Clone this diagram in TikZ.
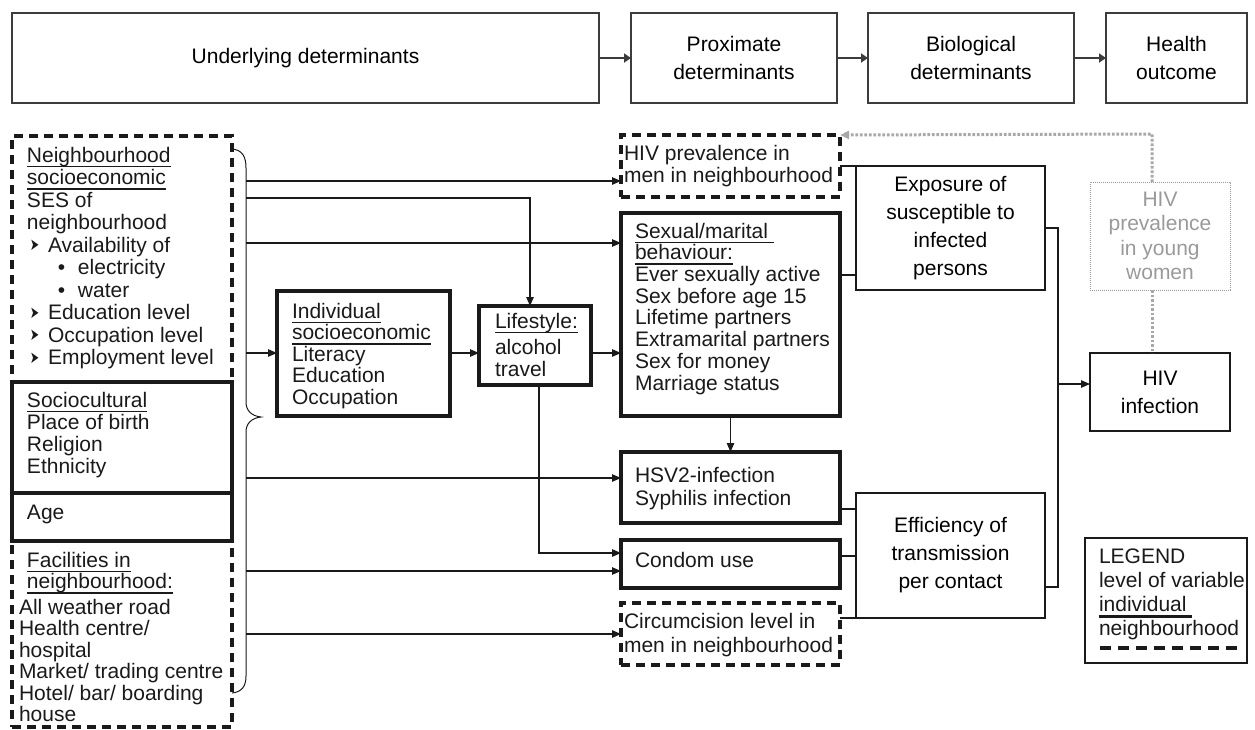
\documentclass[tikz,border=0pt]{standalone}
\usepackage{fontspec}
\usepackage{graphicx}
\setmainfont{Liberation Sans}
\newfontfamily\djv{DejaVu Sans}
\usetikzlibrary{arrows.meta}
\definecolor{ink}{HTML}{1A1A1A}
\definecolor{gry}{HTML}{9A9A9A}
\definecolor{gdl}{HTML}{A8A8A8}
\newcommand\tlft[1]{\begin{tabular}[t]{@{}l@{}}#1\end{tabular}}
\newcommand\uln[1]{\setbox0\hbox{#1}\rlap{\rule[-5pt]{\wd0}{1.3pt}}\box0}
\newcommand\ulnk[1]{\setbox0\hbox{#1}\rlap{\rule[-6pt]{\wd0}{2.6pt}}\box0}
\newcommand\arw{\hspace*{3pt}\makebox[18pt][l]{\raisebox{1.5pt}{\resizebox{9pt}{10.5pt}{\djv ➤}}}}
\newcommand\blt{\hspace*{31pt}\makebox[20pt][l]{\textbullet}}
\newcommand\bx[7]{\node[#2, anchor=north west, minimum width={(#5)-(#3)}, minimum height={(#6)-(#4)}] (#1) at (#3,#4) {#7};}
\begin{document}
\begin{tikzpicture}[x=1pt,y=-1pt,
 every node/.style={inner sep=0pt,outer sep=0pt},
 f21/.style={font=\fontsize{21}{28}\selectfont},
 thinbox/.style={draw=ink,line width=1.2pt,align=center,f21},
 topbox/.style={draw=ink!85,line width=1.6pt,align=center,f21},
 thickbox/.style={draw=ink,line width=3.2pt},
 dashbox/.style={draw=ink,line width=3.2pt,dash pattern=on 9pt off 6pt},
 dotbox/.style={draw=gry,line width=0.7pt,dash pattern=on 0.8pt off 1.2pt,align=center,text=gry,font=\fontsize{21}{24.5}\selectfont},
 txt/.style={anchor=base west, text=ink},
 conn/.style={draw=ink,line width=1.1pt},
 arr/.style={conn,-{Triangle[length=9pt,width=7.5pt]}},
 tarr/.style={draw=ink!85,line width=2.4pt,-{Triangle[length=7pt,width=9pt]}},
 gline/.style={draw=gdl,line width=3pt,dash pattern=on 2.6pt off 1.9pt},
 garr/.style={gline,-{Triangle[length=9pt,width=8pt]}}]
\fill[white] (0,0) rectangle (1255,729);
\useasboundingbox (0,0) rectangle (1255,729);

% top row
\bx{t1}{topbox}{12}{13}{599}{103}{Underlying determinants}
\bx{t2}{topbox}{631}{13}{837}{103}{Proximate\\determinants}
\bx{t3}{topbox}{868}{13}{1074}{103}{Biological\\determinants}
\bx{t4}{topbox}{1106}{13}{1247}{103}{Health\\outcome}
\draw[tarr] (t1) -- (t2);
\draw[tarr] (t2) -- (t3);
\draw[tarr] (t3) -- (t4);

% left column
\bx{nb}{dashbox}{12}{136}{232}{382}{}
\bx{sc}{thickbox}{12}{382}{232}{493}{}
\bx{age}{thickbox}{12}{493}{232}{541}{}
\bx{fac}{dashbox}{12}{541}{232}{727}{}

\node[txt,font=\fontsize{21}{22.55}\selectfont] (nbt) at (27,162) {\tlft{\uln{Neighbourhood}\\ \uln{socioeconomic}\\ SES of\\ neighbourhood\\ \arw Availability of\\ \blt electricity\\ \blt water\\ \arw Education level\\ \arw Occupation level\\ \arw Employment level}};
\node[txt,font=\fontsize{21}{22}\selectfont] (sct) at (27,407) {\tlft{\uln{Sociocultural}\\ Place of birth\\ Religion\\ Ethnicity}};
\node[txt,font=\fontsize{21}{22}\selectfont] (aget) at (27,519) {Age};
\node[txt,font=\fontsize{21}{21}\selectfont] (fact) at (27,567) {\tlft{\uln{Facilities in}\\ \uln{neighbourhood:}\\[4pt] \hspace*{-8pt}All weather road\\ \hspace*{-8pt}Health centre/\\ \hspace*{-8pt}hospital\\ \hspace*{-8pt}Market/ trading centre\\ \hspace*{-8pt}Hotel/ bar/ boarding\\ \hspace*{-8pt}house}};

% brace
\draw[conn,line width=1pt] (232,149) .. controls (242,150) and (246,156) .. (246,168) -- (246,402) .. controls (246,411) and (252,416) .. (261,417) .. controls (252,418) and (246,423) .. (246,432) -- (246,676) .. controls (246,686) and (242,692) .. (232,693);

% middle boxes
\bx{ind}{thickbox}{277}{291}{450}{416}{}
\bx{life}{thickbox}{479}{306}{591}{385}{}
\bx{hivm}{dashbox}{621}{135}{840}{197}{}
\bx{sex}{thickbox}{621}{213}{840}{416}{}
\bx{hsv}{thickbox}{621}{452}{840}{523}{}
\bx{cond}{thickbox}{621}{540}{840}{588}{}
\bx{circ}{dashbox}{621}{603}{840}{665}{}

\node[txt,font=\fontsize{21}{21}\selectfont] (indt) at (292,318) {\tlft{\uln{Individual}\\ \uln{socioeconomic}\\ Literacy\\ Education\\ Occupation}};
\node[txt,font=\fontsize{21}{21}\selectfont] (lifet) at (495,328) {\tlft{\uln{Lifestyle:}\\[5pt] alcohol\\ travel}};
\node[txt,font=\fontsize{21}{22}\selectfont] (hivmt) at (624,160) {\tlft{HIV prevalence in\\ men in neighbourhood}};
\node[txt,font=\fontsize{21}{21.7}\selectfont] (sext) at (635,238) {\tlft{\uln{Sexual/marital\ }\\ \uln{behaviour:}\\ Ever sexually active\\ Sex before age 15\\ Lifetime partners\\ Extramarital partners\\ Sex for money\\ Marriage status}};
\node[txt,font=\fontsize{21}{23}\selectfont] (hsvt) at (635,482) {\tlft{HSV2-infection\\ Syphilis infection}};
\node[txt,font=\fontsize{21}{23}\selectfont] (condt) at (635,567) {Condom use};
\node[txt,font=\fontsize{21}{24}\selectfont] (circt) at (624,628) {\tlft{Circumcision level in\\ men in neighbourhood}};

% right boxes
\bx{expo}{thinbox}{856}{166}{1045}{290}{Exposure of\\susceptible to\\infected\\persons}
\bx{eff}{thinbox}{856}{493}{1045}{618}{Efficiency of\\transmission\\per contact}
\bx{yw}{dotbox}{1090}{182}{1230}{290}{HIV\\prevalence\\in young\\women}
\bx{hivi}{thinbox}{1090}{353}{1230}{431}{HIV\\infection}
\bx{leg}{thinbox}{1085}{538}{1247}{663}{}
\node[txt,font=\fontsize{21}{24.3}\selectfont] (legt) at (1099,563) {\tlft{LEGEND\\ level of variable\\ \ulnk{individual\ }\\ neighbourhood}};
\coordinate (ld1) at (1100,648);
\coordinate (ld2) at (1238,648);
\draw[draw=ink,line width=3.4pt,dash pattern=on 11pt off 7pt] (ld1) -- (ld2);

% connectors from the brace
\coordinate (bA) at (246,181);
\coordinate (bB) at (246,198);
\coordinate (bC) at (246,243);
\coordinate (bD) at (246,353);
\coordinate (bE) at (246,478);
\coordinate (bF) at (246,571);
\coordinate (bG) at (246,634);
\coordinate (xA) at (530,0);
\coordinate (xL) at (539,0);
\draw[arr] (bA) -- (bA -| hivm.west);
\draw[arr] (bB) -| (life.north -| xA);
\draw[arr] (bC) -- (bC -| sex.west);
\draw[arr] (bD) -- (bD -| ind.west);
\draw[arr] (bE) -- (bE -| hsv.west);
\draw[arr] (bF) -- (bF -| cond.west);
\draw[arr] (bG) -- (bG -| circ.west);
\draw[arr] (bD -| ind.east) -- (bD -| life.west);
\draw[arr] (bD -| life.east) -- (bD -| sex.west);
\draw[arr] (life.south -| xL) |- ([yshift=11pt]cond.west);
\draw[arr] (sex.south) -- (hsv.north);

% connectors to mechanisms
\draw[conn] (hivm.east |- expo.north) -- (expo.north west);
\coordinate (yS) at (0,275);
\draw[conn] (sex.east |- yS) -- (yS -| expo.west);
\coordinate (yH) at (0,509);
\coordinate (yC) at (0,556);
\draw[conn] (hsv.east |- yH) -- (yH -| eff.west);
\draw[conn] (cond.east |- yC) -- (yC -| eff.west);
\draw[conn] (circ.east |- eff.south) -- (eff.south west);
\coordinate (u1) at (1058,228);
\coordinate (u2) at (1058,587);
\coordinate (u3) at (1058,384);
\draw[conn] (expo.east |- u1) -- (u1) -- (u2) -- (u2 -| eff.east);
\draw[arr] (u3) -- (u3 -| hivi.west);

% grey dotted links
\coordinate (gx) at (1152,134);
\draw[gline] (yw.south -| gx) -- (hivi.north -| gx);
\draw[garr] (yw.north -| gx) -- (gx) -- (hivm.north east);
\end{tikzpicture}
\end{document}
